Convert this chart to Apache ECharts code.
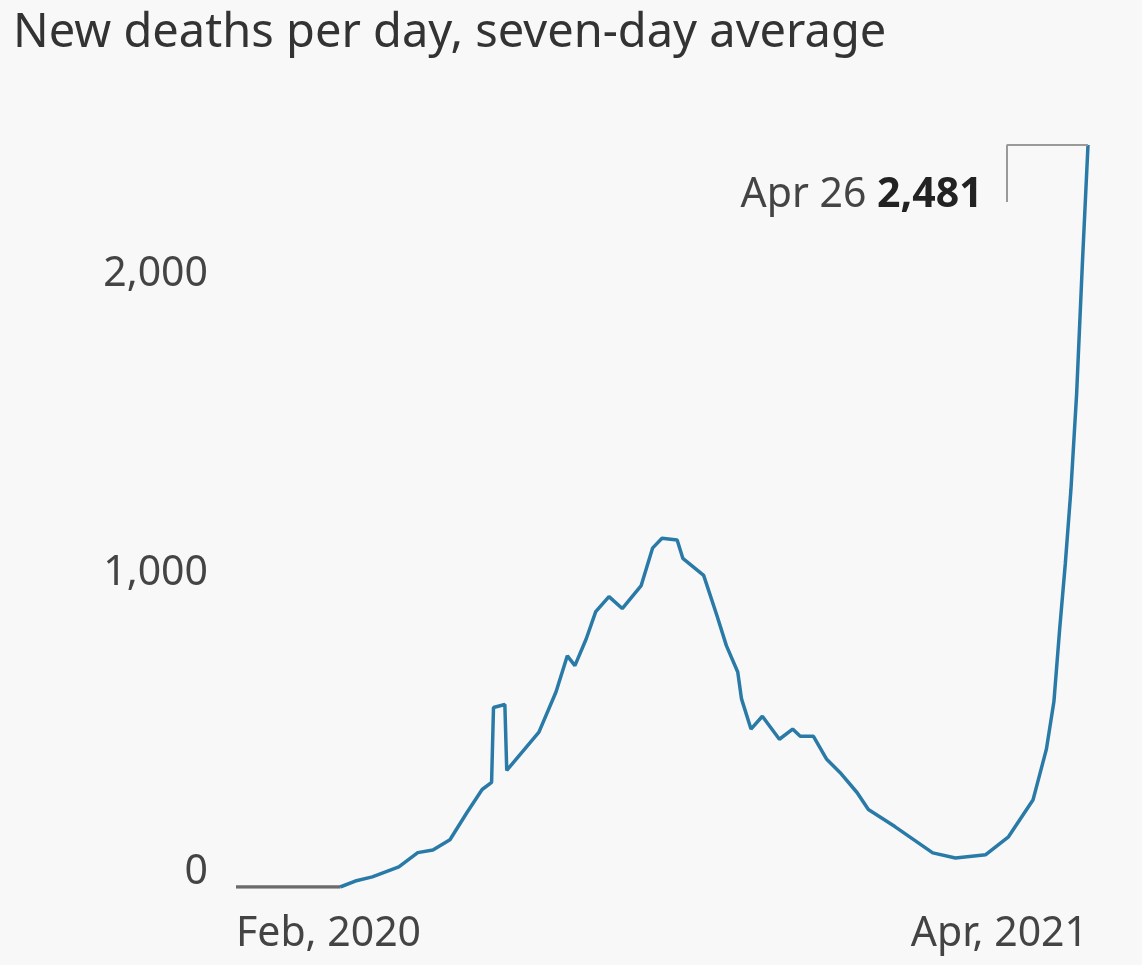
<!DOCTYPE html>
<html lang="en">
<head>
<meta charset="utf-8">
<script src="https://cdn.jsdelivr.net/npm/echarts@6/dist/echarts.min.js"></script>
<style>
  html, body { margin: 0; padding: 0; background: #f8f8f8; }
  #main { width: 1142px; height: 965px; }
</style>
</head>
<body>
<div id="main"></div>
<script>
// data (seven-day average of new deaths)
var dates = [
    '2020-02-01', '2020-03-27', '2020-04-04', '2020-04-13', '2020-04-27', '2020-05-07',
    '2020-05-15', '2020-05-24', '2020-06-02', '2020-06-10', '2020-06-15', '2020-06-16',
    '2020-06-22', '2020-06-23', '2020-07-10', '2020-07-19', '2020-07-25', '2020-07-29',
    '2020-08-04', '2020-08-09', '2020-08-16', '2020-08-23', '2020-09-02', '2020-09-08',
    '2020-09-13', '2020-09-21', '2020-09-24', '2020-10-05', '2020-10-12', '2020-10-17',
    '2020-10-23', '2020-10-25', '2020-10-30', '2020-11-05', '2020-11-14', '2020-11-21',
    '2020-11-25', '2020-12-02', '2020-12-09', '2020-12-16', '2020-12-25', '2020-12-31',
    '2021-01-14', '2021-02-03', '2021-02-15', '2021-03-03', '2021-03-15', '2021-03-28',
    '2021-04-04', '2021-04-08', '2021-04-11', '2021-04-14', '2021-04-17', '2021-04-20',
    '2021-04-23', '2021-04-26'
];
var deaths = [
    0, 0, 20, 34, 67, 115,
    124, 158, 249, 326, 350, 600,
    610, 390, 518, 652, 773, 740,
    830, 921, 971, 931, 1008, 1133,
    1166, 1160, 1099, 1042, 908, 807,
    719, 629, 528, 571, 494, 528,
    504, 504, 427, 383, 316, 259,
    202, 114, 97, 108, 168, 292,
    460, 620, 860, 1080, 1330, 1650,
    2080, 2481
];

var yTicks = [0, 1000, 2000];
var xTickDates = ['2020-02-01', '2021-04-26'];
var xTickLabels = ['Feb, 2020', 'Apr, 2021'];

var titleText = 'New deaths per day, seven-day average';
var noteDate = 'Apr 26';
var noteBracketDate = '2021-03-14';   // where the bracket drops down
var noteBracketLow = 2290;
var noteTextValue = 2312;
var flatUntil = '2020-03-27';         // the leading zero stretch is drawn grey

var FONT = 'Noto Sans';
var lineColor = '#2a7aa8';

function stamp(d) { return +echarts.time.parse(d); }

// split into the grey zero run and the coloured rest (they share one point)
var flatData = [], mainData = [];
for (var i = 0; i < dates.length; i++) {
    var p = [stamp(dates[i]), deaths[i]];
    if (dates[i] <= flatUntil) flatData.push(p);
    if (dates[i] >= flatUntil) mainData.push(p);
}
var lastStamp = stamp(dates[dates.length - 1]);
var lastValue = deaths[deaths.length - 1];
var xTickStamps = xTickDates.map(stamp);
var bracketStamp = stamp(noteBracketDate);

var myChart = echarts.init(document.getElementById('main'));
myChart.setOption({
    backgroundColor: '#f8f8f8',
    animation: false,
    title: {
        text: titleText,
        left: 8,
        top: 5,
        textStyle: { fontFamily: FONT, fontSize: 47, fontWeight: 'normal', color: '#333' }
    },
    grid: { left: 236, right: 54, top: 145, bottom: 78 },
    xAxis: {
        type: 'value',
        min: xTickStamps[0],
        max: lastStamp,
        axisLine: { show: false },
        axisTick: { show: false },
        splitLine: { show: false },
        axisLabel: {
            customValues: xTickStamps,
            alignMinLabel: 'left',
            alignMaxLabel: 'right',
            margin: 27,
            fontFamily: FONT,
            fontSize: 41,
            color: '#444',
            formatter: function (v) {
                var k = xTickStamps.indexOf(+v);
                return k >= 0 ? xTickLabels[k] : '';
            }
        }
    },
    yAxis: {
        type: 'value',
        min: 0,
        max: 'dataMax',
        axisLine: { show: false },
        axisTick: { show: false },
        splitLine: { show: false },
        axisLabel: {
            customValues: yTicks,
            margin: 28,
            verticalAlign: 'bottom',
            lineHeight: 30,
            fontFamily: FONT,
            fontSize: 41,
            color: '#444',
            formatter: function (v) { return v.toLocaleString('en-US'); }
        }
    },
    series: [{
        type: 'line',
        data: flatData,
        showSymbol: false,
        silent: true,
        lineStyle: { width: 3.5, color: '#6b6b6b' }
    }, {
        type: 'line',
        data: mainData,
        showSymbol: false,
        lineStyle: { width: 3.5, color: lineColor },
        markLine: {
            silent: true,
            symbol: 'none',
            label: { show: false },
            lineStyle: { color: '#9a9a9a', width: 2, type: 'solid' },
            data: [
                [{ coord: [lastStamp, lastValue] }, { coord: [bracketStamp, lastValue] }],
                [{ coord: [bracketStamp, lastValue] }, { coord: [bracketStamp, noteBracketLow] }]
            ]
        },
        markPoint: {
            silent: true,
            symbol: 'circle',
            symbolSize: 0,
            data: [{ coord: [bracketStamp, noteTextValue] }],
            label: {
                show: true,
                position: 'left',
                distance: 24,
                formatter: '{a|' + noteDate + ' }{b|' + lastValue.toLocaleString('en-US') + '}',
                rich: {
                    a: { fontFamily: FONT, fontSize: 41, color: '#444' },
                    b: { fontFamily: FONT, fontSize: 41, fontWeight: 'bold', color: '#222' }
                }
            }
        }
    }]
});
</script>
</body>
</html>
